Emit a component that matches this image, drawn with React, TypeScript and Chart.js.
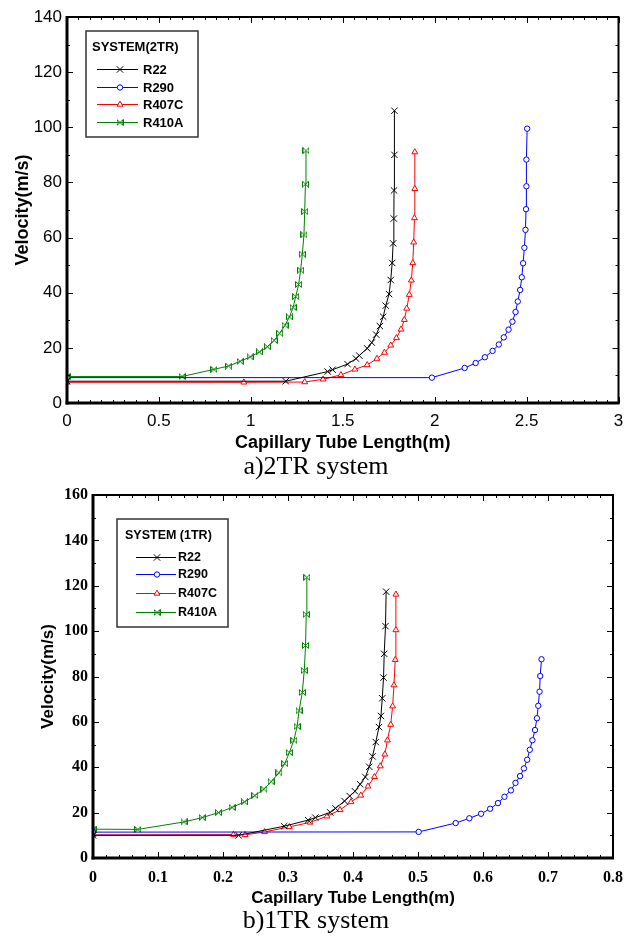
import React, { useEffect, useRef } from 'react';
import { Chart, registerables } from 'chart.js';

Chart.register(...registerables);

// ---------- shared ----------
const REFRIGERANTS = ['R22', 'R290', 'R407C', 'R410A'];
const COLORS = ['#000000', '#0000ff', '#ff0000', '#008000'];

// ---------- a) 2TR system ----------
const TR2_R22_X = [0, 1.19, 1.418, 1.445, 1.526, 1.572, 1.59, 1.633, 1.658, 1.682, 1.702, 1.72, 1.734, 1.752, 1.761, 1.769, 1.774, 1.778, 1.779, 1.781, 1.781];
const TR2_R22_Y = [7.9, 7.9, 11.4, 12.1, 14.1, 16.1, 17.2, 19.8, 21.9, 24.8, 27.9, 31.3, 35.3, 39.5, 44.6, 50.8, 57.9, 66.9, 77.1, 90.0, 106.0];
const TR2_R290_X = [0, 1.985, 2.163, 2.223, 2.273, 2.315, 2.349, 2.376, 2.402, 2.423, 2.44, 2.452, 2.465, 2.474, 2.481, 2.488, 2.494, 2.497, 2.499, 2.499, 2.503];
const TR2_R290_Y = [9.2, 9.2, 12.7, 14.5, 16.6, 18.9, 21.2, 23.8, 26.6, 29.5, 33.0, 36.8, 41.0, 45.6, 50.7, 56.3, 62.8, 70.3, 78.6, 88.3, 99.5];
const TR2_R407C_X = [0, 0.962, 1.293, 1.393, 1.49, 1.566, 1.633, 1.686, 1.727, 1.761, 1.792, 1.817, 1.835, 1.848, 1.862, 1.873, 1.881, 1.886, 1.89, 1.892, 1.892];
const TR2_R407C_Y = [7.5, 7.5, 7.6, 8.6, 10.2, 12.2, 13.8, 16.1, 18.3, 20.9, 23.6, 26.7, 30.2, 34.3, 39.3, 44.5, 50.8, 58.3, 67.1, 77.7, 91.0];
const TR2_R410A_X = [0, 0.626, 0.799, 0.879, 0.942, 0.996, 1.047, 1.09, 1.127, 1.157, 1.186, 1.21, 1.23, 1.244, 1.26, 1.271, 1.28, 1.289, 1.293, 1.297, 1.3];
const TR2_R410A_Y = [9.6, 9.6, 12.2, 13.4, 15.1, 16.7, 18.5, 20.4, 22.7, 25.3, 28.2, 31.2, 34.7, 38.6, 43.0, 48.2, 54.0, 61.0, 69.4, 79.4, 91.5];

const TR2_X_TICKS = [0, 0.5, 1, 1.5, 2, 2.5, 3];
const TR2_X_LABELS = ['0', '0.5', '1', '1.5', '2', '2.5', '3'];
const TR2_Y_TICKS = [0, 20, 40, 60, 80, 100, 120, 140];
const TR2_Y_LABELS = ['0', '20', '40', '60', '80', '100', '120', '140'];

// ---------- b) 1TR system ----------
const TR1_R22_X = [0, 0.224, 0.294, 0.331, 0.342, 0.365, 0.373, 0.387, 0.395, 0.403, 0.411, 0.419, 0.425, 0.43, 0.435, 0.44, 0.443, 0.445, 0.447, 0.448, 0.45, 0.451];
const TR1_R22_Y = [10.0, 10.0, 14.0, 16.7, 17.8, 20.1, 21.9, 25.1, 27.3, 29.4, 32.5, 35.7, 40.2, 44.8, 51.1, 57.7, 62.6, 70.4, 79.5, 90.0, 102.2, 117.4];
const TR1_R290_X = [0, 0.501, 0.558, 0.579, 0.597, 0.611, 0.623, 0.633, 0.643, 0.65, 0.657, 0.663, 0.668, 0.672, 0.676, 0.68, 0.683, 0.685, 0.687, 0.688, 0.69];
const TR1_R290_Y = [11.4, 11.5, 15.4, 17.5, 19.5, 21.7, 24.2, 27.0, 29.8, 33.1, 36.1, 39.5, 43.3, 47.7, 51.9, 56.4, 61.6, 67.1, 73.3, 80.2, 87.6];
const TR1_R407C_X = [0, 0.216, 0.234, 0.264, 0.302, 0.334, 0.36, 0.38, 0.397, 0.412, 0.423, 0.433, 0.442, 0.449, 0.453, 0.458, 0.461, 0.463, 0.465, 0.466, 0.466];
const TR1_R407C_Y = [10.2, 10.3, 10.2, 11.5, 13.7, 15.7, 18.4, 21.2, 24.7, 27.6, 31.6, 35.8, 40.5, 45.7, 51.9, 58.8, 66.9, 76.2, 87.4, 100.5, 116.2];
const TR1_R410A_X = [0, 0.069, 0.14, 0.168, 0.193, 0.214, 0.233, 0.249, 0.263, 0.274, 0.286, 0.295, 0.302, 0.309, 0.314, 0.317, 0.322, 0.325, 0.327, 0.328, 0.329];
const TR1_R410A_Y = [12.7, 12.6, 15.9, 17.8, 20.0, 22.3, 24.7, 27.5, 30.4, 33.6, 37.5, 41.6, 46.4, 51.9, 58.0, 64.9, 73.0, 82.6, 93.7, 107.4, 123.7];

const TR1_X_TICKS = [0, 0.1, 0.2, 0.3, 0.4, 0.5, 0.6, 0.7, 0.8];
const TR1_X_LABELS = ['0', '0.1', '0.2', '0.3', '0.4', '0.5', '0.6', '0.7', '0.8'];
const TR1_Y_TICKS = [0, 20, 40, 60, 80, 100, 120, 140, 160];
const TR1_Y_LABELS = ['0', '20', '40', '60', '80', '100', '120', '140', '160'];

const X_TITLE = 'Capillary Tube Length(m)';
const Y_TITLE = 'Velocity(m/s)';

// ---------- helpers ----------
function makeBowtie(color: string, size: number) {
  const c = document.createElement('canvas');
  c.width = size;
  c.height = size;
  const g = c.getContext('2d')!;
  g.strokeStyle = color;
  g.lineWidth = 1;
  const a = 0.5, b = size - 0.5;
  g.beginPath();
  g.moveTo(a, a); g.lineTo(a, b);
  g.moveTo(b, a); g.lineTo(b, b);
  g.moveTo(a, a); g.lineTo(b, b);
  g.moveTo(a, b); g.lineTo(b, a);
  g.stroke();
  return c;
}

function drawMarker(ctx: CanvasRenderingContext2D, style: any, x: number, y: number, r: number, color: string) {
  ctx.save();
  ctx.strokeStyle = color;
  ctx.fillStyle = '#fff';
  ctx.lineWidth = 1;
  if (style === 'crossRot') {
    const d = r * Math.SQRT1_2;
    ctx.beginPath();
    ctx.moveTo(x - d, y - d); ctx.lineTo(x + d, y + d);
    ctx.moveTo(x - d, y + d); ctx.lineTo(x + d, y - d);
    ctx.stroke();
  } else if (style === 'circle') {
    ctx.beginPath();
    ctx.arc(x, y, r, 0, Math.PI * 2);
    ctx.fill();
    ctx.stroke();
  } else if (style === 'triangle') {
    ctx.beginPath();
    for (let k = 0; k < 3; k++) {
      const a = (k * 2 * Math.PI) / 3;
      const px = x + Math.sin(a) * r, py = y - Math.cos(a) * r;
      if (k === 0) ctx.moveTo(px, py); else ctx.lineTo(px, py);
    }
    ctx.closePath();
    ctx.fill();
    ctx.stroke();
  } else if (style instanceof HTMLCanvasElement) {
    ctx.drawImage(style, x - style.width / 2, y - style.height / 2);
  }
  ctx.restore();
}

const framePlugin = {
  id: 'frame',
  afterDraw(chart: any, _args: any, opts: any) {
    const { ctx, chartArea: ca, scales } = chart;
    const xs = scales.x, ys = scales.y;
    ctx.save();
    ctx.strokeStyle = '#000';
    ctx.lineWidth = 1;
    const major = 6, minor = 3;
    const line = (x1: number, y1: number, x2: number, y2: number) => {
      ctx.beginPath(); ctx.moveTo(x1, y1); ctx.lineTo(x2, y2); ctx.stroke();
    };
    // minor ticks
    const nx = Math.round((xs.max - xs.min) / opts.xMinor);
    for (let i = 0; i <= nx; i++) {
      const px = Math.round(xs.getPixelForValue(xs.min + i * opts.xMinor)) + 0.5;
      line(px, ca.bottom, px, ca.bottom - minor);
      line(px, ca.top, px, ca.top + minor);
    }
    const ny = Math.round((ys.max - ys.min) / opts.yMinor);
    for (let i = 0; i <= ny; i++) {
      const py = Math.round(ys.getPixelForValue(ys.min + i * opts.yMinor)) + 0.5;
      line(ca.left, py, ca.left + minor, py);
      line(ca.right, py, ca.right - minor, py);
    }
    // major ticks
    xs.ticks.forEach((t: any) => {
      const px = Math.round(xs.getPixelForValue(t.value)) + 0.5;
      line(px, ca.bottom, px, ca.bottom - major);
      line(px, ca.top, px, ca.top + major);
    });
    ys.ticks.forEach((t: any) => {
      const py = Math.round(ys.getPixelForValue(t.value)) + 0.5;
      line(ca.left, py, ca.left + major, py);
      line(ca.right, py, ca.right - major, py);
    });
    // frame
    ctx.lineWidth = 2;
    ctx.strokeRect(ca.left, ca.top, ca.right - ca.left, ca.bottom - ca.top);
    ctx.lineWidth = 3;
    line(ca.left, ca.top - 1, ca.left, ca.bottom + 1.5);
    line(ca.left - 1.5, ca.bottom, ca.right + 1, ca.bottom);

    // legend
    const lg = opts.legend;
    if (lg) {
      ctx.lineWidth = 1.5;
      ctx.strokeStyle = '#333';
      ctx.strokeRect(lg.box[0], lg.box[1], lg.box[2] - lg.box[0], lg.box[3] - lg.box[1]);
      ctx.fillStyle = '#000';
      ctx.textBaseline = 'middle';
      ctx.textAlign = 'left';
      ctx.font = lg.titleFont;
      ctx.fillText(lg.title, lg.titleX, lg.titleY);
      ctx.font = lg.labelFont;
      chart.data.datasets.forEach((ds: any, i: number) => {
        const y = lg.itemY[i];
        ctx.strokeStyle = ds.borderColor;
        ctx.lineWidth = 1;
        line(lg.lineX1, y + 0.5, lg.lineX2, y + 0.5);
        drawMarker(ctx, ds.pointStyle, lg.markerX, y + 0.5, ds.pointRadius, ds.borderColor);
        ctx.fillStyle = '#000';
        ctx.fillText(ds.label, lg.labelX, y + 1);
      });
    }
    ctx.restore();
  },
};

function buildConfig(p: any) {
  const styles: any[] = ['crossRot', 'circle', 'triangle', makeBowtie(COLORS[3], 7)];
  const radii = [4.5, 2.7, 3.4, 3.5];
  return {
    type: 'line',
    data: {
      datasets: p.series.map((s: any, i: number) => ({
        label: REFRIGERANTS[i],
        data: s.x.map((x: number, j: number) => ({ x, y: s.y[j] })),
        borderColor: COLORS[i],
        backgroundColor: COLORS[i],
        borderWidth: 1,
        pointStyle: styles[i],
        pointRadius: radii[i],
        pointBorderColor: COLORS[i],
        pointBackgroundColor: '#ffffff',
        pointBorderWidth: 1,
        tension: 0,
        fill: false,
      })),
    },
    options: {
      animation: false,
      responsive: false,
      maintainAspectRatio: false,
      events: [],
      layout: { padding: p.padding },
      plugins: {
        legend: { display: false },
        tooltip: { enabled: false },
        frame: { xMinor: p.xMinor, yMinor: p.yMinor, legend: p.legend },
      },
      scales: {
        x: {
          type: 'linear',
          min: p.xTicks[0],
          max: p.xTicks[p.xTicks.length - 1],
          afterBuildTicks: (s: any) => { s.ticks = p.xTicks.map((v: number) => ({ value: v })); },
          afterFit: (s: any) => { s.height = p.xAxisH; s.paddingLeft = 0; s.paddingRight = 0; },
          grid: { display: false, drawTicks: false },
          border: { display: false },
          ticks: {
            color: '#000',
            font: p.tickFont,
            padding: p.xTickPad,
            maxRotation: 0,
            autoSkip: false,
            callback: (v: number) => p.xLabels[p.xTicks.indexOf(v)] ?? '',
          },
          title: { display: true, text: X_TITLE, color: '#000', font: p.titleFont, padding: { top: 0, bottom: p.xTitlePad } },
        },
        y: {
          type: 'linear',
          min: p.yTicks[0],
          max: p.yTicks[p.yTicks.length - 1],
          afterBuildTicks: (s: any) => { s.ticks = p.yTicks.map((v: number) => ({ value: v })); },
          afterFit: (s: any) => { s.width = p.yAxisW; s.paddingTop = 0; s.paddingBottom = 0; },
          grid: { display: false, drawTicks: false },
          border: { display: false },
          ticks: {
            color: '#000',
            font: p.tickFont,
            padding: 5,
            autoSkip: false,
            callback: (v: number) => p.yLabels[p.yTicks.indexOf(v)] ?? '',
          },
          title: { display: true, text: Y_TITLE, color: '#000', font: p.titleFont, padding: { top: p.yTitlePad, bottom: 0 } },
        },
      },
    },
    plugins: [framePlugin],
  };
}

function ChartCanvas({ params, width, height, top }: any) {
  const ref = useRef<HTMLCanvasElement>(null);
  useEffect(() => {
    const chart = new Chart(ref.current!, buildConfig(params) as any);
    return () => chart.destroy();
  }, []);
  return (
    <canvas
      ref={ref}
      width={width}
      height={height}
      style={{ position: 'absolute', left: 0, top, width, height, display: 'block' }}
    />
  );
}

const TOP_PARAMS = {
  series: [
    { x: TR2_R22_X, y: TR2_R22_Y },
    { x: TR2_R290_X, y: TR2_R290_Y },
    { x: TR2_R407C_X, y: TR2_R407C_Y },
    { x: TR2_R410A_X, y: TR2_R410A_Y },
  ],
  xTicks: TR2_X_TICKS, xLabels: TR2_X_LABELS,
  yTicks: TR2_Y_TICKS, yLabels: TR2_Y_LABELS,
  xMinor: 0.0625, yMinor: 10,
  padding: { left: 0, right: 4, top: 17, bottom: 0 },
  yAxisW: 67, xAxisH: 77,
  tickFont: { family: '"Liberation Sans", Arial, sans-serif', size: 17, weight: 'normal' },
  titleFont: { family: '"Liberation Sans", Arial, sans-serif', size: 18, weight: 'bold' },
  xTickPad: 8, xTitlePad: 26, yTitlePad: 12,
  legend: {
    box: [86, 31, 198, 137],
    title: 'SYSTEM(2TR)', titleX: 92, titleY: 47,
    titleFont: 'bold 13px "Liberation Sans", Arial, sans-serif',
    labelFont: 'bold 13px "Liberation Sans", Arial, sans-serif',
    itemY: [69, 87, 104, 122],
    lineX1: 97, lineX2: 138, markerX: 120, labelX: 143,
  },
};

const BOTTOM_PARAMS = {
  series: [
    { x: TR1_R22_X, y: TR1_R22_Y },
    { x: TR1_R290_X, y: TR1_R290_Y },
    { x: TR1_R407C_X, y: TR1_R407C_Y },
    { x: TR1_R410A_X, y: TR1_R410A_Y },
  ],
  xTicks: TR1_X_TICKS, xLabels: TR1_X_LABELS,
  yTicks: TR1_Y_TICKS, yLabels: TR1_Y_LABELS,
  xMinor: 0.02, yMinor: 10,
  padding: { left: 0, right: 11, top: 15, bottom: 0 },
  yAxisW: 93, xAxisH: 80,
  tickFont: { family: '"Liberation Serif", "Times New Roman", serif', size: 16, weight: 'bold' },
  titleFont: { family: '"Liberation Sans", Arial, sans-serif', size: 17, weight: 'bold' },
  xTickPad: 10, xTitlePad: 29, yTitlePad: 38,
  legend: {
    box: [117, 39, 228, 147],
    title: 'SYSTEM (1TR)', titleX: 125, titleY: 56,
    titleFont: 'bold 12.5px "Liberation Sans", Arial, sans-serif',
    labelFont: 'bold 12.5px "Liberation Sans", Arial, sans-serif',
    itemY: [77, 94, 113, 132],
    lineX1: 136, lineX2: 176, markerX: 157, labelX: 178,
  },
};

const captionStyle = (top: number): React.CSSProperties => ({
  position: 'absolute',
  left: 0,
  width: 632,
  top,
  textAlign: 'center',
  fontFamily: '"Liberation Serif", "Times New Roman", serif',
  fontSize: 26,
  lineHeight: '26px',
  color: '#000',
  whiteSpace: 'nowrap',
});

export default function App() {
  return (
    <div style={{ position: 'absolute', left: 0, top: 0, width: 624, height: 938, background: '#fff', overflow: 'hidden' }}>
      <ChartCanvas params={TOP_PARAMS} width={624} height={480} top={0} />
      <ChartCanvas params={BOTTOM_PARAMS} width={624} height={458} top={480} />
      <div style={captionStyle(453)}>a)2TR system</div>
      <div style={captionStyle(907)}>b)1TR system</div>
    </div>
  );
}
